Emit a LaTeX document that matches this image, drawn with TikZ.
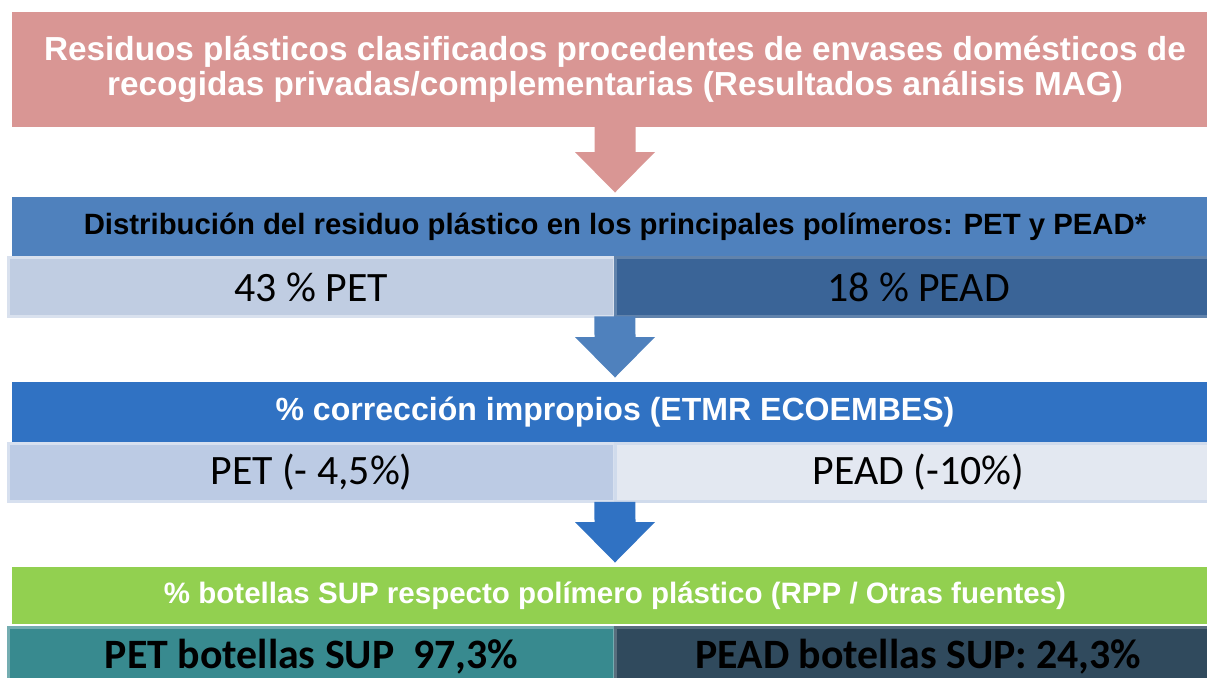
\documentclass[tikz,border=0pt]{standalone}
\usepackage{fontspec}
\setmainfont{Liberation Sans}
\newfontfamily\titulo{Liberation Sans}
\newfontfamily\calibri{Carlito}
\usepackage{xcolor}
\definecolor{rosa}{RGB}{217, 150, 148}
\definecolor{azul-a}{RGB}{79, 129, 189}
\definecolor{azul-b}{RGB}{48, 114, 195}
\definecolor{verde}{RGB}{146, 208, 80}
\definecolor{claro-a}{RGB}{192, 205, 226}
\definecolor{oscuro-a}{RGB}{58, 100, 151}
\definecolor{claro-b}{RGB}{188, 203, 228}
\definecolor{claro-c}{RGB}{227, 232, 241}
\definecolor{teal-a}{RGB}{56, 138, 143}
\definecolor{pizarra}{RGB}{48, 74, 93}
\usepackage{tikz}
\usetikzlibrary{positioning,calc}

\begin{document}
\begin{tikzpicture} [ % estilos
            x=0.02cm, y=-0.02cm,
            banda/.style = {rectangle, minimum width=24.12cm, inner sep=0pt, outer sep=0pt, align=center},
            banda-txt/.style = {font=\titulo\bfseries\fontsize{#1}{#1}\selectfont},
            celda/.style = {rectangle, minimum width=12.14cm, minimum height=1.17cm, inner sep=0pt, outer sep=0pt, line width=0.06cm, font=\calibri\fontsize{23.8}{26}\selectfont},
            celda-neg/.style = {celda, font=\calibri\bfseries\fontsize{23.8}{26}\selectfont}
        ]

        \useasboundingbox (0,0) rectangle (1207,677);
        \clip (0,0) rectangle (1207,677);

        % caja de arriba
        \node [banda, fill=rosa, minimum height=2.3cm, text=white, font=\titulo\bfseries\fontsize{18.95}{19.8}\selectfont] (orig) at (615,69.5)
            {Residuos plásticos clasificados procedentes de envases domésticos de\\recogidas privadas/complementarias (Resultados análisis MAG)};

        % distribucion
        \node [banda, banda-txt=16.7, fill=azul-a, minimum height=1.2cm] (dist) at (615,227)
            {Distribución del residuo plástico en los principales polímeros: PET y PEAD*};
        \node [celda, fill=claro-a, draw=claro-a!60!white] (pet1) at (311.5,287) {43 \% PET};
        \node [celda, fill=oscuro-a, draw=oscuro-a!80!white] (pead1) at (918.5,287) {18 \% PEAD};

        % correccion
        \node [banda, banda-txt=18.25, fill=azul-b, text=white, minimum height=1.2cm] (corr) at (615,412)
            {\% corrección impropios (ETMR ECOEMBES)};
        \node [celda, fill=claro-b, draw=claro-b!60!white] (pet2) at (311.5,472.5) {PET (- 4,5\%)};
        \node [celda, fill=claro-c, draw=claro-b!70!white] (pead2) at (918.5,472.5) {PEAD (-10\%)};

        % botellas
        \node [banda, banda-txt=16.8, fill=verde, text=white, minimum height=1.14cm] (bot) at (615,595.5)
            {\% botellas SUP respecto polímero plástico (RPP / Otras fuentes)};
        \node [celda-neg, fill=teal-a, draw=teal-a!70!white] (pet3) at (311.5,657) {PET botellas SUP~~97,3\%};
        \node [celda-neg, fill=pizarra, draw=pizarra!80!white] (pead3) at (918.5,657) {PEAD botellas SUP: 24,3\%};

        % flechas
        \fill [rosa] ($(orig.south)+(-20.5,0)$) -- ($(dist.north)+(-20.5,-45)$) -- ($(dist.north)+(-40,-45)$) -- ($(dist.north)+(0,-4.5)$)
            -- ($(dist.north)+(40,-45)$) -- ($(dist.north)+(20.5,-45)$) -- ($(orig.south)+(20.5,0)$) -- cycle;
        \fill [azul-a] ($(pet1.south east)+(-20.5,0)$) -- ($(corr.north)+(-20.5,-45)$) -- ($(corr.north)+(-40,-45)$) -- ($(corr.north)+(0,-4.5)$)
            -- ($(corr.north)+(40,-45)$) -- ($(corr.north)+(20.5,-45)$) -- ($(pet1.south east)+(20.5,0)$) -- cycle;
        \fill [azul-b] ($(pet2.south east)+(-20.5,0)$) -- ($(bot.north)+(-20.5,-45)$) -- ($(bot.north)+(-40,-45)$) -- ($(bot.north)+(0,-4.5)$)
            -- ($(bot.north)+(40,-45)$) -- ($(bot.north)+(20.5,-45)$) -- ($(pet2.south east)+(20.5,0)$) -- cycle;

    \end{tikzpicture}
\end{document}
